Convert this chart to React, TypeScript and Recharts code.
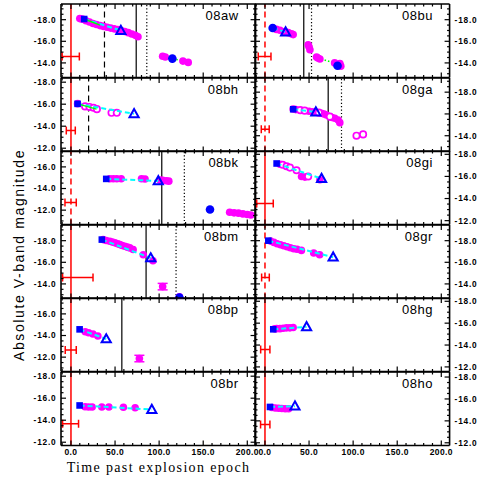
import React from 'react';
import { ComposedChart, Scatter, XAxis, YAxis, ReferenceLine, ErrorBar } from 'recharts';

type Pt = [number, number];

// days past explosion epoch, absolute V magnitude
const awPhot: Pt[] = [[10, -18.1], [13, -18.05], [17, -17.9], [21, -17.78], [25, -17.65], [29, -17.55], [33, -17.45], [37, -17.38], [41, -17.3], [45, -17.22], [49, -17.15], [53, -17.08], [57, -17.0], [61, -16.9], [65, -16.8], [69, -16.68], [73, -16.55], [76, -16.42], [104, -14.62], [107, -14.55], [127, -14.17], [133, -14.05]];
const bhPhot: Pt[] = [[7.5, -16.05]];
const bhOpen: Pt[] = [[16, -15.8], [21, -15.75], [25.6, -15.67], [29.4, -15.55], [46, -15.22], [52, -15.22]];
const bkPhot: Pt[] = [[44, -14.9], [48, -14.9], [52, -14.9], [57, -14.9], [80, -14.9], [84, -14.88], [101, -14.78], [104, -14.75], [108, -14.72], [111, -14.68], [180, -11.8], [185, -11.75], [190, -11.72], [195, -11.65], [200, -11.6], [204, -11.55]];
const bmPhot: Pt[] = [[36.5, -18.1], [40, -18.02], [44, -17.95], [47, -17.87], [50, -17.8], [53, -17.72], [55.4, -17.64], [58, -17.56], [61, -17.48], [64, -17.4], [66.7, -17.33], [70.5, -17.18], [82, -16.7], [93, -16.15], [123, -12.8]];
const bmErr: [number, number, number][] = [[104, -13.75, 0.3]];
const bpPhot: Pt[] = [[16.2, -14.35], [20, -14.26], [24.9, -14.14], [30.5, -13.96]];
const bpErr: [number, number, number][] = [[77.6, -11.87, 0.3]];
const brPhot: Pt[] = [[16, -15.22], [20, -15.2], [24, -15.2], [35, -15.2], [43, -15.2], [59.5, -15.18], [72.8, -15.13]];
const buPhot: Pt[] = [[9.4, -17.2], [13, -17.1], [17, -17.02], [22.6, -16.9], [26.4, -16.8], [30, -16.7], [32, -16.62], [49, -15.68], [50, -15.5], [51, -15.22], [58.5, -14.54], [60, -14.45], [62.3, -14.36], [79, -14.0], [83, -13.85], [85, -13.95], [86, -13.7]];
const gaPhot: Pt[] = [[32, -16.45], [35, -16.4], [50, -16.25], [54, -16.2], [64, -16.06], [67, -16.0], [69.8, -15.9], [76, -15.68], [79.2, -15.6], [83, -15.45], [84.9, -15.2]];
const gaOpen: Pt[] = [[40, -16.35], [45, -16.3], [61, -16.12], [73.6, -15.75], [103.8, -14.0], [111.3, -14.12]];
const giPhot: Pt[] = [[17, -17.1], [41.5, -16.0], [45.3, -15.94], [62.3, -15.7]];
const giOpen: Pt[] = [[20, -17.05], [24.5, -16.92], [28.3, -16.8], [35.8, -16.56], [49, -16.0]];
const grPhot: Pt[] = [[6.3, -17.96], [10.1, -17.84], [13.8, -17.72], [17.6, -17.62], [21.3, -17.53], [25.1, -17.44], [28.8, -17.35], [32.6, -17.25], [36.4, -17.2], [41.3, -17.1], [55.3, -16.86], [62, -16.7]];
const hgPhot: Pt[] = [[11, -15.48], [13.2, -15.5], [17, -15.5], [20.7, -15.53], [24.5, -15.57], [28.3, -15.57], [32, -15.6]];
const hoPhot: Pt[] = [[7.9, -15.22], [11.7, -15.18], [15.5, -15.15], [19.2, -15.13], [23, -15.1], [26.8, -15.1]];

// plateau start / end markers
const awStart: Pt = [15, -18.06], awEnd: Pt = [56.6, -17.0];
const bhStart: Pt = [7.5, -16.03], bhEnd: Pt = [71.6, -15.12];
const bkStart: Pt = [40, -14.89], bkEnd: Pt = [99, -14.7];
const bmStart: Pt = [35, -18.1], bmEnd: Pt = [90.5, -16.4];
const bpStart: Pt = [9.8, -14.57], bpEnd: Pt = [40, -13.68];
const brStart: Pt = [9.8, -15.34], brEnd: Pt = [91.7, -14.97];
const buStart: Pt = [8.7, -17.23], buEnd: Pt = [23.4, -16.86];
const gaStart: Pt = [32, -16.43], gaEnd: Pt = [57.7, -16.18];
const giStart: Pt = [13.2, -17.17], giEnd: Pt = [64.2, -15.8];
const grStart: Pt = [3.8, -18.0], grEnd: Pt = [77.3, -16.47];
const hgStart: Pt = [9.4, -15.44], hgEnd: Pt = [47.2, -15.66];
const hoStart: Pt = [5.7, -15.27], hoEnd: Pt = [34, -15.34];

// explosion epoch uncertainty: [lo, hi, plotted mag]
const awEpoch = [-10, 9.5, -14.6];
const bhEpoch = [-5.3, 4.9, -13.6];
const bkEpoch = [-6.8, 6, -12.7];
const bmEpoch = [-9.5, 25, -14.6];
const bpEpoch = [-6.5, 6, -12.65];
const brEpoch = [-9.5, 8.6, -13.67];
const buEpoch = [-7.6, 6.8, -14.6];
const gaEpoch = [-4.2, 4.8, -14.6];
const giEpoch = [-9.4, 9.4, -13.56];
const grEpoch = [-3.8, 4.9, -14.6];
const hgEpoch = [-4.9, 5.6, -13.6];
const hoEpoch = [-5, 5.6, -13.67];

// y ranges (bright end, faint end)
const RANGE_A: [number, number] = [-19.45, -12.65];
const RANGE_B: [number, number] = [-18.38, -11.7];
const RANGE_C: [number, number] = [-17.47, -10.67];

const X_DOMAIN: [number, number] = [-11.3, 209.4];
const X_TICKS = [-10, 0, 10, 20, 30, 40, 50, 60, 70, 80, 90, 100, 110, 120, 130, 140, 150, 160, 170, 180, 190, 200];
const Y_STEPS = [-20, -19.5, -19, -18.5, -18, -17.5, -17, -16.5, -16, -15.5, -15, -14.5, -14, -13.5, -13, -12.5, -12, -11.5, -11, -10.5, -10];

const MAG = '#ff00ff';
const BLUE = '#0000ff';
const CYAN = '#00ffff';
const GREEN = '#00ff00';
const RED = '#ff0000';

interface SN {
  name: string;
  yr: [number, number];
  phot: Pt[];
  open?: Pt[];
  err?: [number, number, number][];
  start: Pt;
  startDot?: boolean;
  end: Pt;
  dots?: Pt[];
  fit?: Pt[];
  fitDot?: Pt[];
  epoch: number[];
  epochDashed?: boolean;
  marks?: [number, string][];
}

const LEFT: SN[] = [
  { name: '08aw', yr: RANGE_A, phot: awPhot, start: awStart, end: awEnd, dots: [[115, -14.4]], fit: [awStart, [33, -17.5]], fitDot: [[104, -14.6], [134, -14.05]], epoch: awEpoch, marks: [[38, 'dashed'], [74, 'solid'], [86, 'dotted']] },
  { name: '08bh', yr: RANGE_B, phot: bhPhot, open: bhOpen, start: bhStart, end: bhEnd, fit: [bhStart, [29, -15.55]], epoch: bhEpoch, marks: [[20, 'dashed']] },
  { name: '08bk', yr: RANGE_C, phot: bkPhot, start: bkStart, end: bkEnd, dots: [[157.7, -12.06]], fitDot: [[180, -11.8], [205, -11.55]], epoch: bkEpoch, epochDashed: true, marks: [[103, 'solid'], [128.6, 'dotted']] },
  { name: '08bm', yr: RANGE_A, phot: bmPhot, err: bmErr, start: bmStart, end: bmEnd, dots: [[123, -12.75]], epoch: bmEpoch, marks: [[85.2, 'solid'], [119.2, 'dotted']] },
  { name: '08bp', yr: RANGE_C, phot: bpPhot, err: bpErr, start: bpStart, end: bpEnd, epoch: bpEpoch, marks: [[57.7, 'solid']] },
  { name: '08br', yr: RANGE_B, phot: brPhot, start: brStart, end: brEnd, epoch: brEpoch },
];

const RIGHT: SN[] = [
  { name: '08bu', yr: RANGE_A, phot: buPhot, start: buStart, startDot: true, end: buEnd, dots: [[82.3, -13.74]], fitDot: [[60, -14.45], [79, -14.0]], epoch: buEpoch, epochDashed: true, marks: [[44, 'solid'], [52.8, 'dotted']] },
  { name: '08ga', yr: [-19.3, -12.55], phot: gaPhot, open: gaOpen, start: gaStart, end: gaEnd, epoch: gaEpoch, epochDashed: true, marks: [[71.7, 'solid'], [86.8, 'dotted']] },
  { name: '08gi', yr: [-18.3, -11.65], phot: giPhot, open: giOpen, start: giStart, end: giEnd, epoch: giEpoch },
  { name: '08gr', yr: RANGE_A, phot: grPhot, start: grStart, end: grEnd, epoch: grEpoch, epochDashed: true },
  { name: '08hg', yr: [-18.3, -11.58], phot: hgPhot, start: hgStart, end: hgEnd, epoch: hgEpoch },
  { name: '08ho', yr: [-18.46, -11.75], phot: hoPhot, start: hoStart, end: hoEnd, epoch: hoEpoch },
];

const ROW0 = 4.3;
const ROW_H = 73.53;
const COL_X = [61, 255.3];
const PLOT_W = 194.6;
const PAD = 8;

const FONT = 'Liberation Sans, Arial, sans-serif';
const AXIS = { stroke: '#000', strokeWidth: 1.6 };
const DASH: Record<string, string | undefined> = { solid: undefined, dashed: '6 4', dotted: '1.2 2.2' };

const pts = (a: Pt[]) => a.map(([t, m]) => ({ t, m }));

function xTick(side: 'top' | 'bottom', labels: boolean) {
  return (props: any) => {
    const { x, y, payload } = props;
    const v = payload.value as number;
    const major = v % 50 === 0;
    const len = major ? 5 : 2.5;
    const d = side === 'bottom' ? -len : len;
    return (
      <g>
        <line x1={x} x2={x} y1={y} y2={y + d} stroke="#000" strokeWidth={1.2} />
        {labels && major ? (
          <text x={x} y={y + 7} dy="0.35em" textAnchor="middle" fontFamily={FONT} fontSize={8.5} fontWeight={700} letterSpacing={0.4} fill="#000">
            {v.toFixed(1)}
          </text>
        ) : null}
      </g>
    );
  };
}

function yTick(side: 'left' | 'right', labels: boolean) {
  return (props: any) => {
    const { x, y, payload } = props;
    const v = payload.value as number;
    const major = Math.abs(v % 2) < 1e-6;
    const len = major ? 5 : 2.5;
    const d = side === 'left' ? len : -len;
    return (
      <g>
        <line x1={x} x2={x + d} y1={y} y2={y} stroke="#000" strokeWidth={1.2} />
        {labels && major ? (
          <text x={side === 'left' ? x - 4.5 : x + 5} y={y} dy="0.35em" textAnchor={side === 'left' ? 'end' : 'start'} fontFamily={FONT} fontSize={8.3} fontWeight={700} letterSpacing={0.8} fill="#000">
            {v.toFixed(1)}
          </text>
        ) : null}
      </g>
    );
  };
}

const magDot = (p: any) => <circle cx={p.cx} cy={p.cy} r={3.8} fill={MAG} />;
const magRing = (p: any) => <circle cx={p.cx} cy={p.cy} r={3.2} fill="#fff" stroke={MAG} strokeWidth={1.7} />;
const blueSquare = (p: any) => <rect x={p.cx - 3.3} y={p.cy - 3.3} width={6.6} height={6.6} fill={BLUE} />;
const blueDot = (p: any) => <circle cx={p.cx} cy={p.cy} r={4.3} fill={BLUE} />;
const blueTri = (p: any) => (
  <polygon points={`${p.cx},${p.cy - 4.8} ${p.cx - 4.6},${p.cy + 3.4} ${p.cx + 4.6},${p.cy + 3.4}`} fill="none" stroke={BLUE} strokeWidth={2} />
);
const capShape = (p: any) => <line x1={p.cx} x2={p.cx} y1={p.cy - 4} y2={p.cy + 4} stroke={RED} strokeWidth={1.5} />;
const noShape = () => <g />;

function Panel({ sn, row, col }: { sn: SN; row: number; col: number }) {
  const last = row === 5;
  const plotTop = ROW0 + row * ROW_H;
  const leftW = col === 0 ? 61 : 1;
  const rightW = col === 0 ? 1 : 40;
  const mL = col === 0 ? 0 : PAD - 1;
  const mR = col === 0 ? PAD - 1 : 0;
  const width = mL + leftW + PLOT_W + rightW + mR;
  const bottomH = last ? 30 : 1;
  const mB = last ? 0 : PAD - 1;
  const height = PAD + ROW_H + bottomH + mB;
  const left = col === 0 ? 0 : COL_X[1] - PAD;
  const yTicks = Y_STEPS.filter((v) => v > sn.yr[0] + 0.05 && v < sn.yr[1] - 0.05);
  const [elo, ehi, em] = sn.epoch;

  return (
    <div style={{ position: 'absolute', left, top: plotTop - PAD }}>
      <ComposedChart width={width} height={height} margin={{ top: PAD - 1, right: mR, bottom: mB, left: mL }}>
        <XAxis xAxisId={0} type="number" dataKey="t" domain={X_DOMAIN} allowDataOverflow ticks={X_TICKS} interval={0}
          tickSize={0} tickMargin={0} tickLine={false} axisLine={AXIS} tick={xTick('bottom', last)} height={bottomH} />
        <XAxis xAxisId="top" orientation="top" type="number" dataKey="t" domain={X_DOMAIN} allowDataOverflow ticks={X_TICKS} interval={0}
          tickSize={0} tickMargin={0} tickLine={false} axisLine={AXIS} tick={xTick('top', false)} height={1} />
        <YAxis yAxisId={0} orientation="left" type="number" dataKey="m" domain={sn.yr} reversed allowDataOverflow ticks={yTicks} interval={0}
          tickSize={0} tickMargin={0} tickLine={false} axisLine={AXIS} tick={yTick('left', col === 0)} width={leftW} />
        <YAxis yAxisId="r" orientation="right" type="number" dataKey="m" domain={sn.yr} reversed allowDataOverflow ticks={yTicks} interval={0}
          tickSize={0} tickMargin={0} tickLine={false} axisLine={AXIS} tick={yTick('right', col === 1)} width={rightW} />

        <ReferenceLine x={0} stroke={RED} strokeWidth={1.5} strokeDasharray={sn.epochDashed ? '6 4' : undefined} />
        {(sn.marks || []).map(([x, s], i) => (
          <ReferenceLine key={i} x={x} stroke="#000" strokeWidth={1.2} strokeDasharray={DASH[s]} />
        ))}

        <Scatter data={[{ t: elo, m: em }, { t: ehi, m: em }]} shape={capShape} line={{ stroke: RED, strokeWidth: 1.5 }} isAnimationActive={false} />

        {sn.fitDot ? (
          <Scatter data={pts(sn.fitDot)} shape={noShape} line={{ stroke: GREEN, strokeWidth: 1.6, strokeDasharray: '1.5 2' }} isAnimationActive={false} />
        ) : null}
        <Scatter data={pts(sn.phot)} shape={magDot} isAnimationActive={false} />
        {sn.open ? <Scatter data={pts(sn.open)} shape={magRing} isAnimationActive={false} /> : null}
        {sn.err ? (
          <Scatter data={sn.err.map(([t, m, e]) => ({ t, m, e }))} shape={magDot} isAnimationActive={false}>
            <ErrorBar dataKey="e" direction="y" width={5} stroke={MAG} strokeWidth={1.5} />
          </Scatter>
        ) : null}
        <Scatter data={pts([sn.start, sn.end])} shape={noShape} line={{ stroke: CYAN, strokeWidth: 2, strokeDasharray: '5 3' }} isAnimationActive={false} />
        {sn.fit ? (
          <Scatter data={pts(sn.fit)} shape={noShape} line={{ stroke: GREEN, strokeWidth: 1.4 }} isAnimationActive={false} />
        ) : null}
        {sn.dots ? <Scatter data={pts(sn.dots)} shape={blueDot} isAnimationActive={false} /> : null}
        <Scatter data={pts([sn.start])} shape={sn.startDot ? blueDot : blueSquare} isAnimationActive={false} />
        <Scatter data={pts([sn.end])} shape={blueTri} isAnimationActive={false} />
      </ComposedChart>
    </div>
  );
}

export default function App() {
  return (
    <div style={{ position: 'absolute', left: 0, top: 0, width: 491, height: 491, background: '#fff' }}>
      {LEFT.map((sn, i) => <Panel key={sn.name} sn={sn} row={i} col={0} />)}
      {RIGHT.map((sn, i) => <Panel key={sn.name} sn={sn} row={i} col={1} />)}
      <svg width={491} height={491} style={{ position: 'absolute', left: 0, top: 0, pointerEvents: 'none' }}>
        {[LEFT, RIGHT].map((list, c) =>
          list.map((sn, r) => (
            <text key={sn.name} x={COL_X[c] + PLOT_W - 17} y={ROW0 + r * ROW_H + 15.7} textAnchor="end" fontFamily={FONT} fontSize={13} letterSpacing={0.5} fill="#000">
              {sn.name}
            </text>
          ))
        )}
        <text transform="translate(23.5, 255) rotate(-90)" textAnchor="middle" fontFamily={FONT} fontSize={14} letterSpacing={1.6} fill="#000">
          Absolute V-band magnitude
        </text>
        <text x={158.5} y={472} textAnchor="middle" fontFamily="Liberation Serif, Times New Roman, serif" fontSize={14} letterSpacing={1.35} fill="#000">
          Time past explosion epoch
        </text>
      </svg>
    </div>
  );
}
